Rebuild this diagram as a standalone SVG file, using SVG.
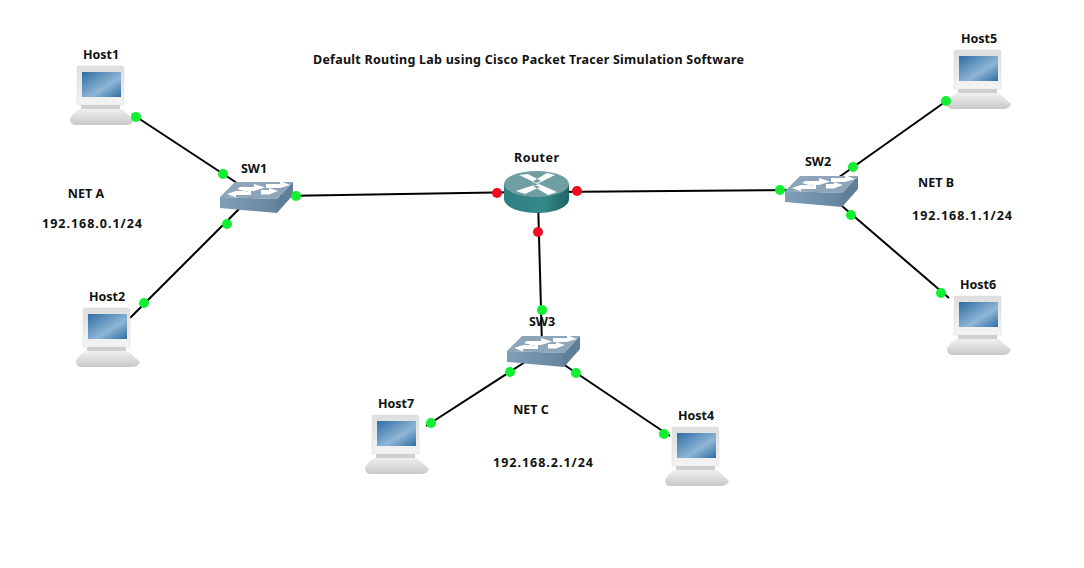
<svg xmlns="http://www.w3.org/2000/svg" width="1084" height="568" viewBox="0 0 1084 568">
<style>
text{font-family:"Noto Sans","Liberation Sans",sans-serif;font-weight:700;font-size:12.5px;fill:#111;text-anchor:middle}
.l{stroke:#000;stroke-width:2;fill:none}
.g{fill:#10f030}
.r{fill:#f00c20}
</style>
<defs>
<linearGradient id="scr" x1="0" y1="0" x2="1" y2="1"><stop offset="0" stop-color="#2f6ca3"/><stop offset=".6" stop-color="#8fb6d6"/><stop offset="1" stop-color="#2f6ca3"/></linearGradient>
<linearGradient id="base" x1="0" y1="0" x2="0" y2="1"><stop offset="0" stop-color="#f0f0f0"/><stop offset="1" stop-color="#c8c8c8"/></linearGradient>
<linearGradient id="mon" x1="0" y1="0" x2="0" y2="1"><stop offset="0" stop-color="#dedede"/><stop offset="1" stop-color="#f4f4f4"/></linearGradient>
<linearGradient id="cyl" x1="0" y1="0" x2="1" y2="0"><stop offset="0" stop-color="#2f7f80"/><stop offset=".6" stop-color="#35898a"/><stop offset="1" stop-color="#1f6465"/></linearGradient>
<linearGradient id="swf" x1="0" y1="0" x2="1" y2="0"><stop offset="0" stop-color="#7f9fb9"/><stop offset="1" stop-color="#66849d"/></linearGradient>
<g id="host">
<path d="M9 0H52Q54 0 54 2V39H7V2Q7 0 9 0Z" fill="url(#mon)" stroke="#d8d8d8" stroke-width=".5"/>
<rect x="12" y="6" width="39" height="25" fill="url(#scr)"/>
<path d="M11 39H50V43H11Z" fill="#cfcfcf"/>
<path d="M9 43H52L64 54Q62 59 56 59H6Q0 59 0 53Q2 48 9 43Z" fill="url(#base)"/>
</g>
<g id="switch">
<path d="M57 19L73 2V15L57 33Z" fill="#5f7e97"/>
<path d="M0 17L15 2H73L57 19Z" fill="#8ea5b9"/>
<path d="M0 17L57 19V33L0 28Z" fill="url(#swf)"/>
<path d="M20 6H34V3L45 6.500L34 10H27L28 11L17 8ZM46 3H60V0L70 4L60 7H46ZM24 10H16L7 13L16 16.500V14H31V10ZM41 9H49V7L58 10L49 13.500H41Z" fill="#fff" transform="translate(0 1)"/>
</g>
<g id="router">
<path d="M0 14V29C0 37 15 43 33 43S65 37 65 29V14Z" fill="url(#cyl)"/>
<ellipse cx="32.500" cy="14" rx="32.500" ry="13" fill="#6f9fa2"/>
<path d="M15 5L24 4L37 11L32 13ZM51 5L43 3L28 12L33 14ZM12 21L21 24L36 17L30 15ZM53 22L44 25L29 16L35 14Z" fill="#fff"/>
</g>
</defs>
<g id="connectors">
<path class="l" d="M132 114L240 185M240 208L130 318M280 196L520 192M550 192L800 190M835 180L945 102M835 200L949 298M538 200L542 345M525 362L426 426M560 362L670 436"/>
</g>
<g id="Host1"><use href="#host" x="70" y="66"/><text x="101" y="59">Host1</text></g>
<g id="Host2"><use href="#host" x="76" y="308"/><text x="107" y="301">Host2</text></g>
<g id="Host5"><use href="#host" x="947" y="50"/><text x="979" y="43">Host5</text></g>
<g id="Host6"><use href="#host" x="947" y="296"/><text x="978" y="289">Host6</text></g>
<g id="Host7"><use href="#host" x="365" y="415"/><text x="396" y="408">Host7</text></g>
<g id="Host4"><use href="#host" x="665" y="427"/><text x="696" y="420">Host4</text></g>
<g id="SW1"><use href="#switch" x="220" y="180"/><text x="254" y="173">SW1</text></g>
<g id="SW2"><use href="#switch" x="785" y="174"/><text x="818" y="166">SW2</text></g>
<g id="SW3"><use href="#switch" x="507" y="334"/><text x="542" y="326">SW3</text></g>
<g id="Router"><use href="#router" x="504" y="170"/><text x="536.500" y="162" textLength="45">Router</text></g>
<g id="ports">
<circle class="g" cx="136" cy="117" r="5"/><circle class="g" cx="223" cy="174" r="5"/><circle class="g" cx="296" cy="196" r="5"/><circle class="g" cx="227" cy="224" r="5"/><circle class="g" cx="144" cy="303" r="5"/>
<circle class="r" cx="497" cy="193" r="5"/><circle class="r" cx="577" cy="191" r="5"/><circle class="r" cx="538" cy="232" r="5"/>
<circle class="g" cx="780" cy="190" r="5"/><circle class="g" cx="853" cy="167" r="5"/><circle class="g" cx="946" cy="101" r="5"/><circle class="g" cx="851" cy="215" r="5"/><circle class="g" cx="941" cy="293" r="5"/>
<circle class="g" cx="542" cy="310" r="5"/><circle class="g" cx="510" cy="372" r="5"/><circle class="g" cx="576" cy="373" r="5"/><circle class="g" cx="431" cy="423" r="5"/><circle class="g" cx="664" cy="434" r="5"/>
</g>
<g id="labels">
<text x="528.500" y="64" textLength="431">Default Routing Lab using Cisco Packet Tracer Simulation Software</text>
<text x="86" y="198">NET A</text><text x="92" y="228" textLength="100">192.168.0.1/24</text>
<text x="936" y="187">NET B</text><text x="962" y="220" textLength="100">192.168.1.1/24</text>
<text x="531" y="414">NET C</text><text x="543" y="467" textLength="100">192.168.2.1/24</text>
</g>
</svg>
